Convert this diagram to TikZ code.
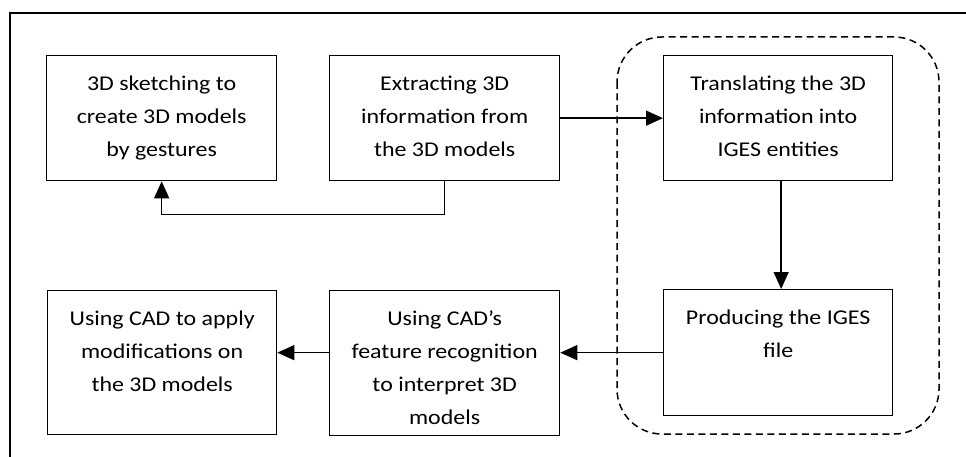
\documentclass[tikz,border=0pt]{standalone}
\usepackage{fontspec}
\setmainfont{Carlito}[FakeStretch=1.14]
\usetikzlibrary{arrows.meta}

% box text: fixed-size parbox, lines centred, first baseline 35pt below the top
\newcommand{\boxlines}[3]{\parbox[c][#2pt][t]{#1pt}{\centering\rule{0pt}{35pt}#3}}

\begin{document}
\begin{tikzpicture}[x=1pt, y=-1pt,
  stepbox/.style={draw, line width=1.3pt, inner sep=0pt, anchor=north west,
                  font=\fontsize{21}{33}\selectfont},
  flow/.style={-{Triangle[length=17pt,width=15pt]}, line width=1.4pt},
  group/.style={dash pattern=on 7pt off 4.5pt, line width=1.5pt, rounded corners=45pt}]
\useasboundingbox (0,0) rectangle (966,457);

% outer frame (open at right and bottom)
\draw[line width=2pt] (10,457) -- (10,13) -- (966,13);

% top row
\node[stepbox] (sketch) at (46,55)
  {\boxlines{230}{125}{3D sketching to\\create 3D models\\by gestures}};
\node[stepbox] (extract) at (329,55)
  {\boxlines{230}{125}{Extracting 3D\\information from\\the 3D models}};
\node[stepbox] (translate) at (663,55)
  {\boxlines{229}{125}{Translating the 3D\\information into\\IGES entities}};

% bottom row
\node[stepbox] (modify) at (47,290)
  {\boxlines{229}{144}{Using CAD to apply\\modifications on\\the 3D models}};
\node[stepbox] (recognise) at (329,290)
  {\boxlines{230}{145}{Using CAD’s\\feature recognition\\to interpret 3D\\models}};
\node[stepbox] (produce) at (663,289)
  {\boxlines{229}{126}{Producing the IGES\\file}};

% IGES group
\draw[group] (617,37) rectangle (939,434);

% connectors
\draw[flow] (extract.south) -- ++(0,33) -| (sketch.south);
\draw[flow] (extract.east) -- (translate.west);
\draw[flow] ([xshift=3pt]translate.south) -- ([xshift=3pt]produce.north);
\draw[flow] (produce.west) -- (produce.west -| recognise.east);
\draw[flow] (produce.west -| recognise.west) -- (produce.west -| modify.east);
\end{tikzpicture}
\end{document}
